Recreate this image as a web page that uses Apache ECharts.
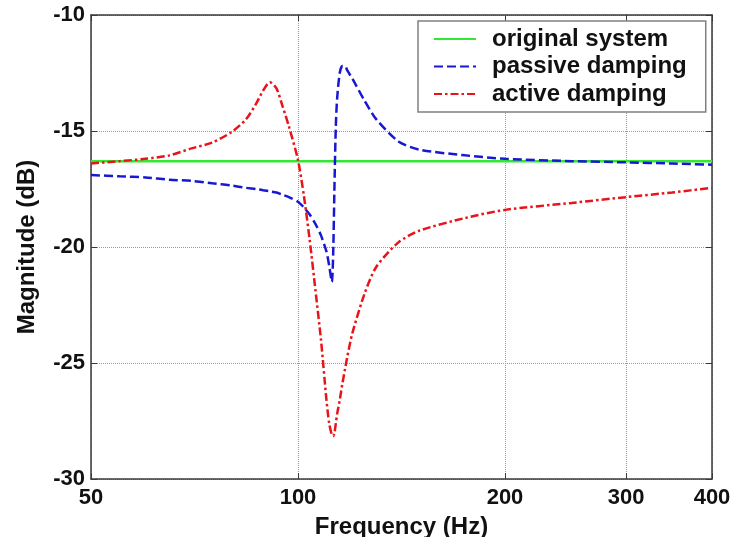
<!DOCTYPE html>
<html>
<head>
<meta charset="utf-8">
<script src="https://cdn.jsdelivr.net/npm/echarts@6/dist/echarts.min.js"></script>
<style>html,body{margin:0;padding:0;background:#fff;}#c{width:733px;height:537px;}</style>
</head>
<body>
<div id="c"></div>
<script>
const freq = [50, 55, 60, 65, 70, 75, 80, 84, 87, 89, 91, 93, 95, 97, 100, 102, 104, 106, 108, 110, 111, 112, 112.5, 113, 113.5, 114, 115, 116, 117, 118, 120, 125, 130, 140, 150, 175, 200, 250, 300, 350, 400];
const original = [-16.3, -16.3, -16.3, -16.3, -16.3, -16.3, -16.3, -16.3, -16.3, -16.3, -16.3, -16.3, -16.3, -16.3, -16.3, -16.3, -16.3, -16.3, -16.3, -16.3, -16.3, -16.3, -16.3, -16.3, -16.3, -16.3, -16.3, -16.3, -16.3, -16.3, -16.3, -16.3, -16.3, -16.3, -16.3, -16.3, -16.3, -16.3, -16.3, -16.3, -16.3];
const passive = [-16.9, -16.95, -17.0, -17.1, -17.15, -17.25, -17.35, -17.45, -17.5, -17.55, -17.6, -17.65, -17.75, -17.85, -18.05, -18.3, -18.6, -19.0, -19.5, -20.2, -20.8, -21.5, -20.3, -17.3, -14.8, -13.6, -12.5, -12.2, -12.2, -12.4, -12.75, -13.7, -14.5, -15.45, -15.8, -16.05, -16.2, -16.3, -16.35, -16.4, -16.45];
const active = [-16.4, -16.3, -16.2, -16.05, -15.75, -15.5, -15.05, -14.5, -13.8, -13.25, -12.9, -13.15, -13.95, -14.8, -16.25, -17.8, -19.7, -21.85, -24.0, -26.6, -27.6, -28.1, -28.15, -28.0, -27.6, -27.2, -26.6, -25.9, -25.3, -24.7, -23.7, -22.0, -20.85, -19.8, -19.3, -18.75, -18.4, -18.1, -17.85, -17.65, -17.45];
const xTicks = [50, 100, 200, 300, 400];
const yMin = -30, yMax = -10, yStep = 5;
const seriesNames = ['original system', 'passive damping', 'active damping'];

const pairs = arr => freq.map((f, i) => [f, arr[i]]);
const axisColor = '#3a3a3a';
const font = 'Liberation Sans, Arial, sans-serif';

const chart = echarts.init(document.getElementById('c'));
chart.setOption({
  animation: false,
  backgroundColor: '#fff',
  grid: { left: 91, right: 21, top: 15, bottom: 58, outerBoundsMode: 'none', containLabel: false },
  legend: {
    orient: 'vertical',
    left: 418, top: 21,
    padding: [6, 19, 6, 15],
    itemGap: 3.5,
    itemWidth: 42, itemHeight: 14,
    backgroundColor: '#fff',
    borderColor: '#808080', borderWidth: 1.5, borderRadius: 0,
    itemStyle: { opacity: 0 },
    textStyle: { fontFamily: font, fontWeight: 'bold', fontSize: 24, color: '#111', padding: [0, 0, 0, 11] },
    data: seriesNames
  },
  xAxis: [{
    type: 'log', logBase: 10, min: 50, max: 400,
    name: 'Frequency (Hz)', nameLocation: 'middle', nameGap: 36,
    nameTextStyle: { fontFamily: font, fontWeight: 'bold', fontSize: 24, color: '#111' },
    axisLine: { show: true, lineStyle: { color: axisColor, width: 1.5 } },
    axisTick: { show: true, inside: true, length: 6, customValues: xTicks, lineStyle: { color: axisColor, width: 1 } },
    axisLabel: { customValues: xTicks, margin: 8, fontFamily: font, fontWeight: 'bold', fontSize: 22, color: '#111' },
    splitLine: { show: true, lineStyle: { color: '#999', type: 'dotted', width: 1 } }
  }, {
    type: 'log', logBase: 10, min: 50, max: 400, position: 'top',
    axisLine: { show: true, lineStyle: { color: axisColor, width: 1.5 } },
    axisTick: { show: true, inside: true, length: 6, customValues: xTicks, lineStyle: { color: axisColor, width: 1 } },
    axisLabel: { show: false },
    splitLine: { show: false }
  }],
  yAxis: [{
    type: 'value', min: yMin, max: yMax, interval: yStep,
    name: 'Magnitude (dB)', nameLocation: 'middle', nameGap: 52, nameRotate: 90,
    nameTextStyle: { fontFamily: font, fontWeight: 'bold', fontSize: 24, color: '#111' },
    axisLine: { show: true, lineStyle: { color: axisColor, width: 1.5 } },
    axisTick: { show: true, inside: true, length: 6, lineStyle: { color: axisColor, width: 1 } },
    axisLabel: { margin: 6, fontFamily: font, fontWeight: 'bold', fontSize: 22, color: '#111' },
    splitLine: { show: true, lineStyle: { color: '#999', type: 'dotted', width: 1 } }
  }, {
    type: 'value', min: yMin, max: yMax, interval: yStep, position: 'right',
    axisLine: { show: true, lineStyle: { color: axisColor, width: 1.5 } },
    axisTick: { show: true, inside: true, length: 6, lineStyle: { color: axisColor, width: 1 } },
    axisLabel: { show: false },
    splitLine: { show: false }
  }],
  series: [{
    name: seriesNames[0], type: 'line', data: pairs(original), showSymbol: false, symbol: 'none',
    lineStyle: { color: '#33e833', width: 2.5, type: 'solid' }, itemStyle: { color: '#33e833' }, z: 3
  }, {
    name: seriesNames[1], type: 'line', data: pairs(passive), showSymbol: false, symbol: 'none', smooth: 0.25,
    lineStyle: { color: '#1818d2', width: 2.5, type: [9, 4] }, itemStyle: { color: '#1818d2' }, z: 4
  }, {
    name: seriesNames[2], type: 'line', data: pairs(active), showSymbol: false, symbol: 'none', smooth: 0.25,
    lineStyle: { color: '#e8141a', width: 2.5, type: [8, 3, 2.5, 3] }, itemStyle: { color: '#e8141a' }, z: 5
  }]
});
</script>
</body>
</html>
